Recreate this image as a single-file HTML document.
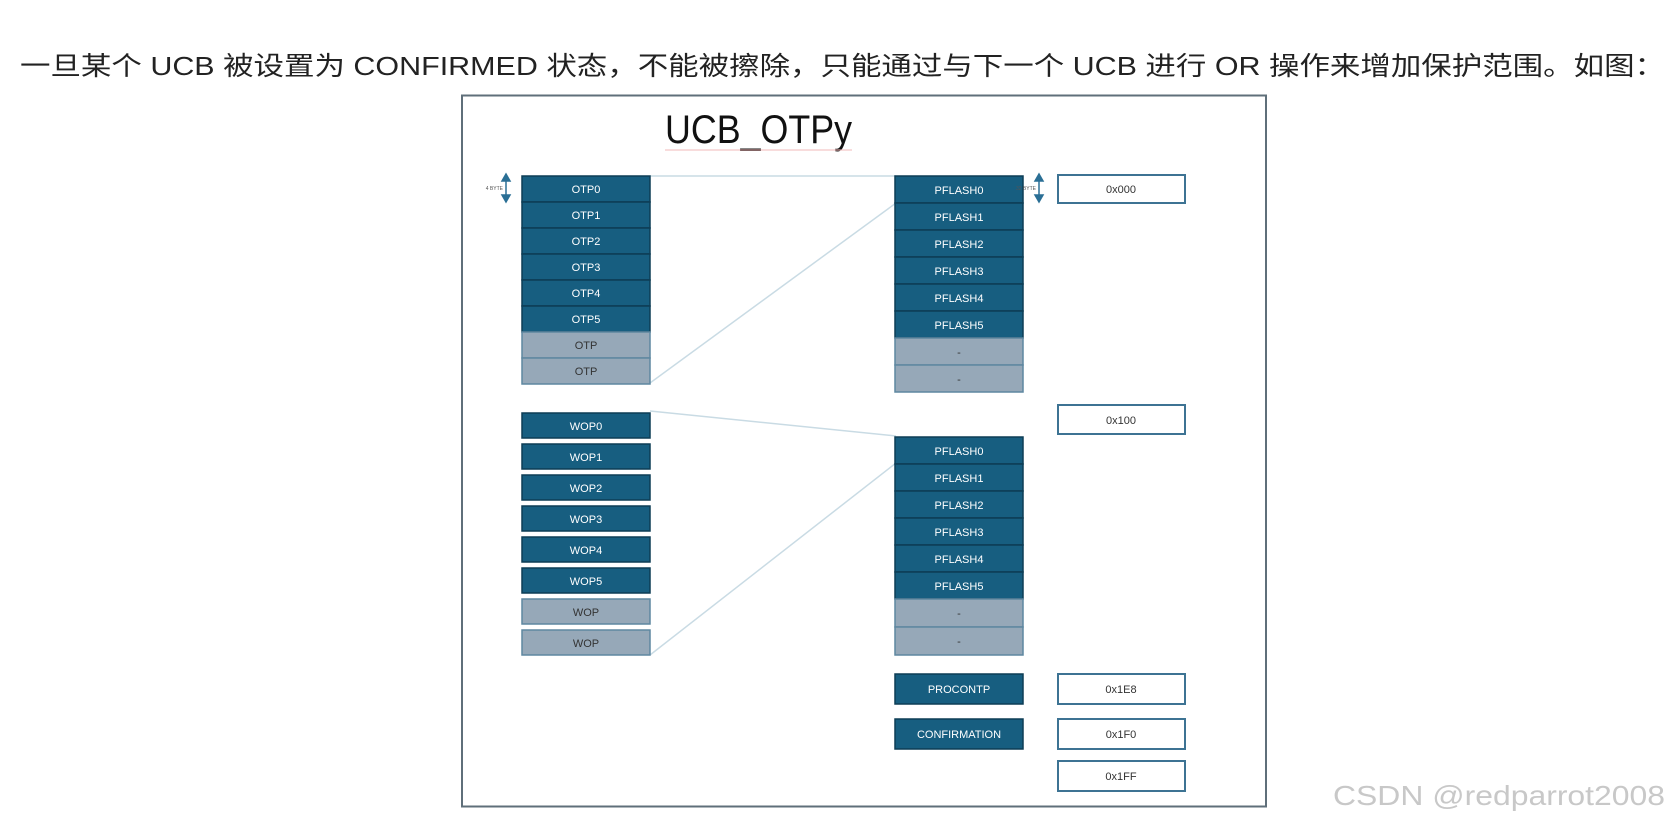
<!DOCTYPE html>
<html><head><meta charset="utf-8">
<style>
html,body{margin:0;padding:0;background:#fff;width:1667px;height:823px;overflow:hidden}
svg{display:block}
</style></head><body>
<svg width="1667" height="823" viewBox="0 0 1667 823" xmlns="http://www.w3.org/2000/svg" font-family="Liberation Sans, sans-serif">
<text x="20" y="75" font-size="26" fill="#222" font-family="Liberation Sans, Noto Sans CJK SC, sans-serif" textLength="1645" lengthAdjust="spacingAndGlyphs">一旦某个 UCB 被设置为 CONFIRMED 状态，不能被擦除，只能通过与下一个 UCB 进行 OR 操作来增加保护范围。如图：</text>
<rect x="462" y="95.5" width="804" height="711" fill="#fff" stroke="#5f6f7a" stroke-width="2"/>
<text x="665" y="143" font-size="40" fill="#111" textLength="187" lengthAdjust="spacingAndGlyphs">UCB_OTPy</text>
<line x1="665" y1="150" x2="852" y2="150" stroke="#f2b8b8" stroke-width="1"/>
<g stroke="#c9dbe4" stroke-width="1.5">
<line x1="650" y1="176" x2="896" y2="176"/>
<line x1="650" y1="383" x2="896" y2="203"/>
<line x1="650" y1="411" x2="896" y2="436"/>
<line x1="650" y1="655" x2="896" y2="463"/>
</g>
<g font-size="11" text-anchor="middle" fill="#fff">
<!-- OTP column -->
<g stroke="#0d3d55" stroke-width="1.5">
<rect x="522" y="176" width="128" height="26" fill="#175e80"/>
<rect x="522" y="202" width="128" height="26" fill="#175e80"/>
<rect x="522" y="228" width="128" height="26" fill="#175e80"/>
<rect x="522" y="254" width="128" height="26" fill="#175e80"/>
<rect x="522" y="280" width="128" height="26" fill="#175e80"/>
<rect x="522" y="306" width="128" height="26" fill="#175e80"/>
</g>
<g stroke="#5f87a0" stroke-width="1.5">
<rect x="522" y="332" width="128" height="26" fill="#96a8b8"/>
<rect x="522" y="358" width="128" height="26" fill="#96a8b8"/>
</g>
<text x="586" y="193">OTP0</text><text x="586" y="219">OTP1</text><text x="586" y="245">OTP2</text>
<text x="586" y="271">OTP3</text><text x="586" y="297">OTP4</text><text x="586" y="323">OTP5</text>
<text x="586" y="349" fill="#333">OTP</text><text x="586" y="375" fill="#333">OTP</text>
<!-- WOP column -->
<g stroke="#0d3d55" stroke-width="1.5">
<rect x="522" y="413" width="128" height="25" fill="#175e80"/>
<rect x="522" y="444" width="128" height="25" fill="#175e80"/>
<rect x="522" y="475" width="128" height="25" fill="#175e80"/>
<rect x="522" y="506" width="128" height="25" fill="#175e80"/>
<rect x="522" y="537" width="128" height="25" fill="#175e80"/>
<rect x="522" y="568" width="128" height="25" fill="#175e80"/>
</g>
<g stroke="#5f87a0" stroke-width="1.5">
<rect x="522" y="599" width="128" height="25" fill="#96a8b8"/>
<rect x="522" y="630" width="128" height="25" fill="#96a8b8"/>
</g>
<text x="586" y="430">WOP0</text><text x="586" y="461">WOP1</text><text x="586" y="492">WOP2</text>
<text x="586" y="523">WOP3</text><text x="586" y="554">WOP4</text><text x="586" y="585">WOP5</text>
<text x="586" y="616" fill="#333">WOP</text><text x="586" y="647" fill="#333">WOP</text>
<!-- PFLASH top -->
<g stroke="#0d3d55" stroke-width="1.5">
<rect x="895" y="176" width="128" height="27" fill="#175e80"/>
<rect x="895" y="203" width="128" height="27" fill="#175e80"/>
<rect x="895" y="230" width="128" height="27" fill="#175e80"/>
<rect x="895" y="257" width="128" height="27" fill="#175e80"/>
<rect x="895" y="284" width="128" height="27" fill="#175e80"/>
<rect x="895" y="311" width="128" height="27" fill="#175e80"/>
</g>
<g stroke="#5f87a0" stroke-width="1.5">
<rect x="895" y="338" width="128" height="27" fill="#96a8b8"/>
<rect x="895" y="365" width="128" height="27" fill="#96a8b8"/>
</g>
<text x="959" y="194">PFLASH0</text><text x="959" y="221">PFLASH1</text><text x="959" y="248">PFLASH2</text>
<text x="959" y="275">PFLASH3</text><text x="959" y="302">PFLASH4</text><text x="959" y="329">PFLASH5</text>
<text x="959" y="356" fill="#333">-</text><text x="959" y="383" fill="#333">-</text>
<!-- PFLASH bottom -->
<g stroke="#0d3d55" stroke-width="1.5">
<rect x="895" y="437" width="128" height="27" fill="#175e80"/>
<rect x="895" y="464" width="128" height="27" fill="#175e80"/>
<rect x="895" y="491" width="128" height="27" fill="#175e80"/>
<rect x="895" y="518" width="128" height="27" fill="#175e80"/>
<rect x="895" y="545" width="128" height="27" fill="#175e80"/>
<rect x="895" y="572" width="128" height="27" fill="#175e80"/>
</g>
<g stroke="#5f87a0" stroke-width="1.5">
<rect x="895" y="599" width="128" height="28" fill="#96a8b8"/>
<rect x="895" y="627" width="128" height="28" fill="#96a8b8"/>
</g>
<text x="959" y="455">PFLASH0</text><text x="959" y="482">PFLASH1</text><text x="959" y="509">PFLASH2</text>
<text x="959" y="536">PFLASH3</text><text x="959" y="563">PFLASH4</text><text x="959" y="590">PFLASH5</text>
<text x="959" y="617" fill="#333">-</text><text x="959" y="645" fill="#333">-</text>
<!-- PROCONTP / CONFIRMATION -->
<rect x="895" y="674" width="128" height="30" fill="#175e80" stroke="#0d3d55" stroke-width="1.5"/>
<rect x="895" y="719" width="128" height="30" fill="#175e80" stroke="#0d3d55" stroke-width="1.5"/>
<text x="959" y="693">PROCONTP</text><text x="959" y="738">CONFIRMATION</text>
<!-- addresses -->
<g fill="#fff" stroke="#3d7393" stroke-width="2">
<rect x="1058" y="175" width="127" height="28"/>
<rect x="1058" y="405" width="127" height="29"/>
<rect x="1058" y="674" width="127" height="30"/>
<rect x="1058" y="719" width="127" height="30"/>
<rect x="1058" y="761" width="127" height="30"/>
</g>
<g fill="#333">
<text x="1121" y="193">0x000</text><text x="1121" y="424">0x100</text>
<text x="1121" y="693">0x1E8</text><text x="1121" y="738">0x1F0</text><text x="1121" y="780">0x1FF</text>
</g>
</g>
<!-- small arrows -->
<g fill="#2a6f95" stroke="#2a6f95" stroke-width="1.5">
<line x1="506" y1="178" x2="506" y2="198"/>
<polygon points="502,181 510,181 506,174"/><polygon points="502,195 510,195 506,202"/>
<line x1="1039" y1="178" x2="1039" y2="198"/>
<polygon points="1035,181 1043,181 1039,174"/><polygon points="1035,195 1043,195 1039,202"/>
</g>
<text x="503" y="190" font-size="5" fill="#555" text-anchor="end">4 BYTE</text>
<text x="1036" y="190" font-size="5" fill="#555" text-anchor="end">32 BYTE</text>
<text x="1333" y="805" font-size="28" fill="#c8c8c8" textLength="332" lengthAdjust="spacingAndGlyphs">CSDN @redparrot2008</text>
</svg>
</body></html>
